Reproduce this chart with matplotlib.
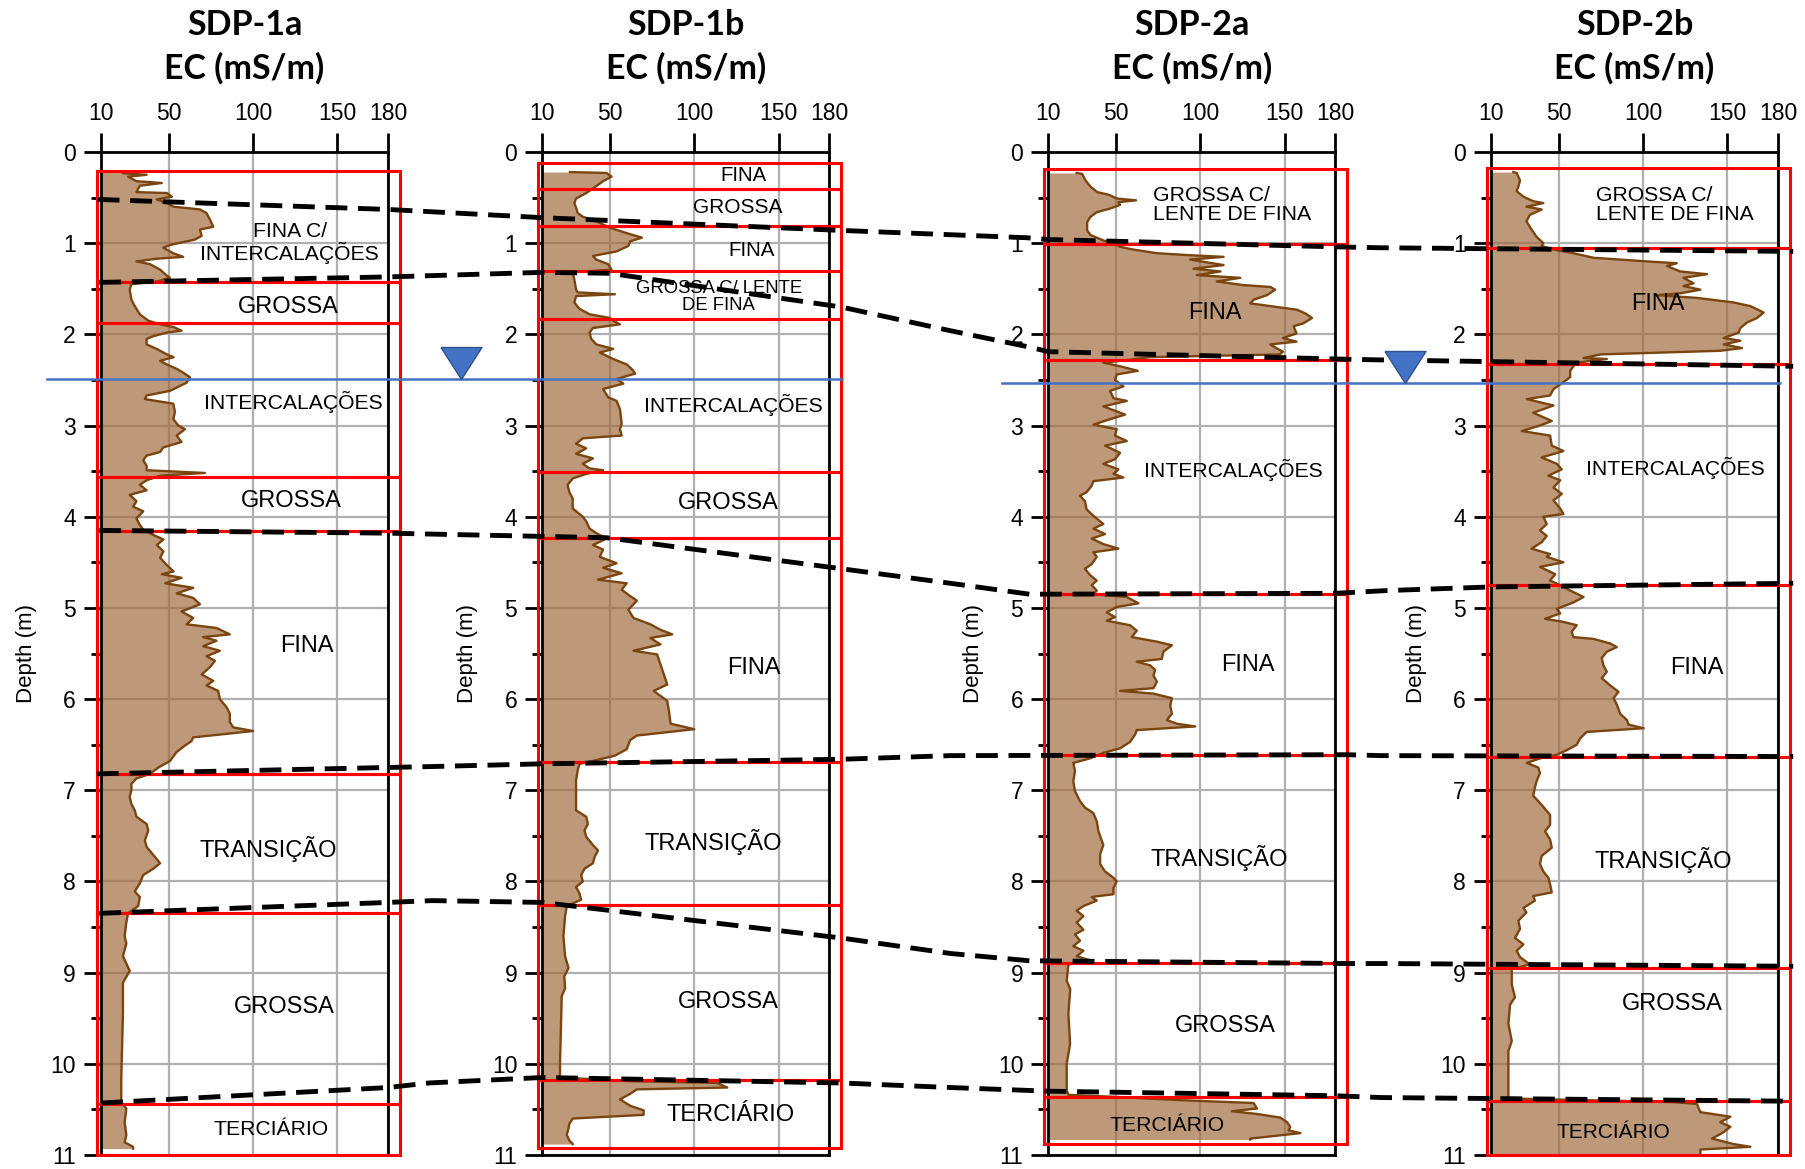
import numpy as np
import matplotlib
matplotlib.use("Agg")
import matplotlib.pyplot as plt
from matplotlib.lines import Line2D
from matplotlib.patches import Rectangle

plt.rcParams['font.family'] = ['Liberation Sans', 'DejaVu Sans']

# ---------------- DATA ----------------
wells = ['SDP-1a', 'SDP-1b', 'SDP-2a', 'SDP-2b']
x_ticks = [10, 50, 100, 150, 180]
y_ticks = list(range(0, 12))

sdp1a_depth = [0.22, 0.233, 0.25, 0.27, 0.32, 0.34, 0.37, 0.44, 0.45, 0.49, 0.52, 0.56, 0.60, 0.63, 0.67, 0.74, 0.82, 0.85,
               0.92, 0.96, 1.02, 1.05, 1.11, 1.15, 1.17, 1.20, 1.23, 1.29, 1.34, 1.38, 1.42, 1.45, 1.51, 1.62, 1.69, 1.78,
               1.85, 1.89, 1.92, 1.96, 1.98, 2.02, 2.05, 2.11, 2.16, 2.22, 2.25, 2.29, 2.33, 2.38, 2.42, 2.47, 2.53, 2.62,
               2.67, 2.71, 2.76, 2.85, 2.93, 3.00, 3.04, 3.11, 3.18, 3.24, 3.29, 3.33, 3.38, 3.44, 3.49, 3.52, 3.55, 3.60,
               3.65, 3.71, 3.76, 3.83, 3.89, 3.94, 4.02, 4.09, 4.14, 4.20, 4.25, 4.31, 4.38, 4.45, 4.53, 4.60, 4.63, 4.67,
               4.73, 4.78, 4.84, 4.89, 4.96, 5.04, 5.11, 5.18, 5.22, 5.29, 5.32, 5.36, 5.42, 5.47, 5.53, 5.58, 5.65, 5.73,
               5.80, 5.85, 5.91, 6.00, 6.09, 6.16, 6.25, 6.31, 6.35, 6.42, 6.46, 6.51, 6.58, 6.68, 6.75, 6.82, 6.87, 6.93,
               7.00, 7.07, 7.15, 7.22, 7.29, 7.37, 7.44, 7.55, 7.62, 7.71, 7.80, 7.86, 7.93, 8.02, 8.11, 8.17, 8.27, 8.35,
               8.45, 8.60, 8.68, 8.82, 8.98, 9.11, 9.44, 9.80, 10.17, 10.42, 10.49, 10.64, 10.78, 10.86, 10.91, 10.93]
sdp1a_ec = [23, 23, 37, 26, 31, 46, 33, 31, 49, 52, 43, 49, 53, 68.6, 72.5, 74.5, 76.5, 68.6,
            69.6, 65.6, 50.8, 46.9, 52.8, 58.7, 43, 31, 39, 45, 48, 50.8, 43, 28, 27, 28, 30, 33,
            38, 45, 53, 57.7, 49, 41, 37, 37, 43, 49, 53, 45, 49, 55, 58.7, 62.7, 60.7, 50.8,
            37, 36, 52.8, 53.8, 52.8, 55.8, 59.7, 54.8, 57.7, 46.9, 45, 37, 35, 37, 37, 71.5, 45, 37,
            33, 37, 27, 31, 29, 35, 31, 33, 35, 41, 47, 43, 47, 45, 49, 53, 46, 57.7,
            48, 64.6, 54.8, 64.6, 68.6, 57.7, 64.6, 60.7, 78.4, 86.3, 70.5, 78.4, 70.5, 80.4, 72.5, 77.5, 74.5, 69.6,
            76.5, 72.5, 79.4, 80.4, 84.4, 86.3, 86.3, 88.3, 100.1, 64.6, 63.6, 59.7, 54.8, 50.8, 44, 39, 31, 28,
            28, 27, 28, 30, 31, 37, 38, 36, 37, 41, 45, 41, 35, 33, 30, 33, 32, 26,
            25, 24, 25, 23, 27, 23, 23, 22.5, 22, 22, 25, 24, 25, 24, 29, 29]

sdp1b_depth = [0.22, 0.23, 0.27, 0.32, 0.40, 0.45, 0.51, 0.56, 0.61, 0.67, 0.71, 0.76, 0.83, 0.89, 0.94, 0.98, 1.03, 1.09,
               1.14, 1.18, 1.23, 1.29, 1.32, 1.40, 1.51, 1.54, 1.56, 1.58, 1.65, 1.72, 1.78, 1.82, 1.85, 1.89, 1.93, 1.98,
               2.05, 2.11, 2.16, 2.20, 2.27, 2.33, 2.38, 2.43, 2.49, 2.54, 2.60, 2.69, 2.73, 2.82, 2.98, 3.04, 3.11, 3.14,
               3.20, 3.25, 3.31, 3.36, 3.42, 3.47, 3.49, 3.53, 3.58, 3.65, 3.73, 3.80, 3.91, 4.00, 4.05, 4.13, 4.18, 4.24,
               4.31, 4.36, 4.44, 4.51, 4.56, 4.62, 4.69, 4.73, 4.80, 4.87, 4.92, 5.02, 5.11, 5.18, 5.24, 5.29, 5.33, 5.40,
               5.47, 5.51, 5.62, 5.73, 5.84, 5.91, 6.02, 6.13, 6.27, 6.33, 6.40, 6.45, 6.55, 6.62, 6.67, 6.71, 6.78, 6.89,
               7.07, 7.22, 7.29, 7.37, 7.44, 7.51, 7.60, 7.66, 7.73, 7.80, 7.86, 7.93, 8.00, 8.06, 8.13, 8.20, 8.27, 8.38,
               8.60, 8.82, 8.95, 9.04, 9.17, 9.26, 9.62, 9.99, 10.15, 10.19, 10.21, 10.26, 10.28, 10.33, 10.39, 10.46, 10.51,
               10.56, 10.60, 10.66, 10.71, 10.78, 10.84, 10.88]
sdp1b_ec = [26.4, 48, 51, 46, 40, 36, 30, 29, 30, 31, 34, 42, 50, 60, 69, 62, 61, 54,
            40, 42, 49, 51, 28, 29, 30, 31, 53, 30, 29, 32, 38, 50, 52, 56, 40, 38,
            39, 42, 52, 44, 52, 60, 63, 65, 54, 58, 46, 49, 54, 56, 57, 56, 57, 34,
            30, 36, 30, 40, 34, 38, 46, 36, 28, 25, 26, 28, 28, 34, 36, 38, 42, 48,
            40, 46, 44, 54, 46, 57, 43, 60, 57, 62, 66, 61, 64, 74, 80, 87, 74, 80,
            64, 78, 80, 82, 84, 76, 84, 85, 86, 100, 66, 62, 60, 53, 42, 32, 31, 30,
            30, 30, 36, 37, 35, 36, 40, 43, 41, 40, 35, 33, 34, 30, 32, 33, 24.5, 23.5,
            22.5, 23.5, 25.5, 23, 23.5, 21.5, 21, 20.5, 20.5, 62, 113.6, 119.6, 66, 62, 56, 62, 70,
            70, 28, 26, 25.5, 24.5, 26, 28]

sdp2a_depth = [0.23, 0.24, 0.31, 0.38, 0.44, 0.47, 0.51, 0.53, 0.55, 0.58, 0.62, 0.66, 0.71, 0.77, 0.86, 0.91, 0.97, 1.00,
               1.04, 1.07, 1.11, 1.13, 1.15, 1.18, 1.24, 1.28, 1.31, 1.35, 1.38, 1.42, 1.46, 1.48, 1.51, 1.57, 1.62, 1.66,
               1.69, 1.73, 1.77, 1.82, 1.88, 1.91, 1.99, 2.04, 2.08, 2.11, 2.15, 2.19, 2.22, 2.25, 2.28, 2.31, 2.35, 2.40,
               2.44, 2.50, 2.57, 2.62, 2.70, 2.73, 2.79, 2.88, 2.93, 2.99, 3.04, 3.11, 3.17, 3.22, 3.30, 3.37, 3.42, 3.48,
               3.53, 3.57, 3.61, 3.66, 3.73, 3.77, 3.83, 3.92, 3.99, 4.08, 4.13, 4.19, 4.24, 4.30, 4.35, 4.39, 4.44, 4.52,
               4.57, 4.64, 4.70, 4.75, 4.81, 4.85, 4.88, 4.92, 4.95, 4.99, 5.05, 5.10, 5.14, 5.19, 5.25, 5.32, 5.37, 5.41,
               5.48, 5.56, 5.59, 5.63, 5.68, 5.74, 5.81, 5.88, 5.91, 5.94, 5.99, 6.07, 6.16, 6.23, 6.27, 6.30, 6.34, 6.39,
               6.47, 6.54, 6.59, 6.65, 6.70, 6.79, 6.90, 7.01, 7.12, 7.19, 7.25, 7.34, 7.45, 7.60, 7.70, 7.81, 7.89, 7.96,
               8.00, 8.07, 8.14, 8.17, 8.21, 8.27, 8.32, 8.38, 8.45, 8.53, 8.58, 8.65, 8.71, 8.76, 8.82, 8.87, 8.91, 9.09,
               9.18, 9.45, 9.78, 10.00, 10.29, 10.34, 10.36, 10.40, 10.43, 10.49, 10.52, 10.55, 10.59, 10.64, 10.69, 10.73,
               10.76, 10.78, 10.82, 10.83]
sdp2a_ec = [26.8, 30, 32, 35, 39, 46, 50.5, 62, 51.5, 52.5, 46.6, 38.7, 35, 33, 33, 35, 42.6, 48.6,
            52.5, 60.4, 74.3, 92, 113.8, 94, 113.8, 96, 112, 98, 123.7, 109.8, 125.7, 141.5, 144.4, 139.5, 131.6, 129.6,
            141.5, 157.3, 162.2, 166.2, 161, 155.3, 157, 149, 157, 141.5, 145, 149, 147, 70, 58, 42.6, 52.5, 63,
            50.5, 49.5, 54.5, 46.6, 48.6, 56.5, 42.6, 55.5, 46.6, 36.7, 50.5, 49.5, 56.5, 43.6, 52.5, 49.5, 42.6, 51.5,
            48.6, 54.5, 36.7, 35.7, 32.7, 28.8, 31.7, 32.7, 36.7, 42.6, 36.7, 43.6, 35.7, 42.6, 51.5, 36.7, 38.7, 35.7,
            31.7, 34.7, 38.7, 35.7, 38.7, 36.7, 56.5, 60.4, 63.4, 50.5, 44.6, 49.5, 44.6, 58.4, 62.4, 59.4, 74.3, 83.2,
            78.2, 77.2, 62.4, 70.3, 73.3, 72.3, 74.3, 72.3, 52.5, 72.3, 83.2, 82.2, 83.2, 80.2, 86.1, 97, 62.4, 61.4,
            58.4, 52.5, 42.6, 34.7, 24.8, 25.8, 24.8, 25.8, 28.8, 31.7, 36.7, 38.7, 39.7, 42.6, 40.7, 40.7, 43.6, 48.6,
            50.5, 48.6, 48.6, 35.7, 38.7, 30.8, 26.8, 30.8, 26.8, 30.8, 25.8, 28.8, 24.8, 30.8, 26.8, 35.7, 21.9, 20.9,
            23, 21.9, 22.9, 20.9, 20.9, 21.9, 46.6, 90, 131.6, 133.6, 118.7, 133.6, 147.4, 151.4, 153.3, 152.3,
            159.3, 149.4, 129.6, 129.6]

sdp2b_depth = [0.22, 0.23, 0.31, 0.38, 0.43, 0.49, 0.54, 0.56, 0.60, 0.63, 0.69, 0.76, 0.85, 0.93, 1.00, 1.03, 1.07, 1.11,
               1.16, 1.20, 1.22, 1.25, 1.31, 1.34, 1.38, 1.44, 1.47, 1.51, 1.55, 1.57, 1.60, 1.65, 1.69, 1.76, 1.82, 1.87,
               1.93, 1.98, 2.04, 2.07, 2.11, 2.15, 2.18, 2.22, 2.26, 2.27, 2.31, 2.35, 2.40, 2.47, 2.55, 2.60, 2.67, 2.71,
               2.78, 2.86, 2.95, 3.00, 3.06, 3.11, 3.22, 3.28, 3.35, 3.42, 3.48, 3.55, 3.60, 3.68, 3.75, 3.82, 3.91, 3.97,
               4.00, 4.08, 4.15, 4.21, 4.28, 4.35, 4.41, 4.44, 4.50, 4.55, 4.63, 4.70, 4.75, 4.81, 4.88, 4.94, 5.01, 5.06,
               5.12, 5.15, 5.19, 5.26, 5.32, 5.34, 5.39, 5.43, 5.48, 5.55, 5.63, 5.70, 5.77, 5.85, 5.92, 5.99, 6.06, 6.16,
               6.23, 6.28, 6.32, 6.36, 6.43, 6.50, 6.56, 6.61, 6.65, 6.70, 6.75, 6.81, 6.90, 6.97, 7.06, 7.16, 7.27, 7.38,
               7.45, 7.54, 7.63, 7.72, 7.81, 7.89, 7.96, 8.03, 8.12, 8.16, 8.21, 8.29, 8.34, 8.43, 8.52, 8.62, 8.69, 8.76,
               8.83, 8.91, 8.96, 9.13, 9.27, 9.35, 9.56, 9.75, 9.86, 10.18, 10.38, 10.42, 10.44, 10.53, 10.58, 10.64, 10.69,
               10.75, 10.82, 10.88, 10.91, 10.94, 11.0]
sdp2b_ec = [23.2, 25.2, 27.2, 26.2, 25.2, 29.2, 35, 41, 31, 40, 33, 31, 34, 37, 41, 40, 47, 58.8,
            70.7, 102.3, 120, 114.2, 122, 137.9, 124, 130, 124, 134, 122, 108, 132, 153.7, 163.6, 171.5, 167.6, 161.6,
            157.7, 156.7, 147.8, 157.7, 147.8, 158.7, 145.8, 74.7, 64.8, 78.6, 60.8, 58.8, 56.9, 56.9, 50.9, 47, 45, 31.2,
            47, 35, 46, 39, 28.2, 45, 46, 52.9, 40, 49, 51.9, 44, 51, 47, 51.9, 47, 51, 52.9,
            41, 43, 39, 43, 40, 34, 45, 43, 52.9, 39, 48, 45, 51, 56.9, 64.8, 58.8, 49, 51,
            42, 52, 60.8, 57.8, 58.8, 70.7, 80.6, 84.5, 78.6, 75.6, 76.6, 78.6, 75.6, 80.6, 85.5, 82.6, 84.5, 86.5,
            90.5, 91.5, 100.4, 66.7, 62.8, 60.8, 54.9, 49, 39, 31.2, 38, 39, 37, 36, 35, 40, 45, 45,
            42, 45, 46, 40, 39, 41, 44, 45, 46, 35, 36, 29.2, 31, 26.2, 27.2, 24.2, 29.2, 25.2,
            27.2, 33, 22.3, 22.3, 24.2, 21.3, 20.3, 22.3, 20.3, 20.3, 20.3, 118, 132, 134, 151.8, 145.8, 151.8,
            147.8, 140.9, 153.7, 163.6, 134, 134]

# layer boundaries (m) and unit names
sdp1a_bounds = [0.21, 1.43, 1.88, 3.56, 4.16, 6.82, 8.35, 10.44, 11.0]
sdp1a_units = ['FINA C/\nINTERCALAÇÕES', 'GROSSA', 'INTERCALAÇÕES', 'GROSSA', 'FINA', 'TRANSIÇÃO', 'GROSSA', 'TERCIÁRIO']
sdp1b_bounds = [0.12, 0.41, 0.81, 1.30, 1.83, 3.51, 4.23, 6.69, 8.26, 10.18, 10.92]
sdp1b_units = ['FINA', 'GROSSA', 'FINA', 'GROSSA C/ LENTE\nDE FINA', 'INTERCALAÇÕES', 'GROSSA', 'FINA',
               'TRANSIÇÃO', 'GROSSA', 'TERCIÁRIO']
sdp2a_bounds = [0.19, 1.01, 2.28, 4.85, 6.61, 8.89, 10.36, 10.88]
sdp2a_units = ['GROSSA C/\nLENTE DE FINA', 'FINA', 'INTERCALAÇÕES', 'FINA', 'TRANSIÇÃO', 'GROSSA', 'TERCIÁRIO']
sdp2b_bounds = [0.18, 1.05, 2.33, 4.75, 6.63, 8.95, 10.41, 11.0]
sdp2b_units = ['GROSSA C/\nLENTE DE FINA', 'FINA', 'INTERCALAÇÕES', 'FINA', 'TRANSIÇÃO', 'GROSSA', 'TERCIÁRIO']

# correlation lines: (panel, EC position, depth)
corr_lines = [
    [(0, 8, 0.52), (0, 180, 0.63), (1, 10, 0.72), (1, 187, 0.86), (2, -3, 0.94), (2, 10, 0.96),
     (2, 180, 1.04), (3, -56, 1.05), (3, 189, 1.09)],
    [(0, 9, 1.43), (0, 180, 1.37), (1, 10, 1.32), (1, 50, 1.33), (1, 187, 1.70), (2, -48, 1.96),
     (2, -1, 2.14), (2, 10, 2.19), (2, 180, 2.27), (3, -56, 2.28), (3, 189, 2.35)],
    [(0, 9, 4.15), (0, 180, 4.18), (1, -57, 4.19), (1, 48, 4.23), (1, 187, 4.57), (2, -48, 4.73),
     (2, -1, 4.85), (2, 180, 4.84), (3, -52, 4.81), (3, 10, 4.77), (3, 189, 4.73)],
    [(0, 7.5, 6.82), (0, 180, 6.75), (1, -56, 6.74), (1, 10, 6.71), (1, 187, 6.66), (2, -48, 6.62),
     (2, 187, 6.61), (3, -55, 6.62), (3, 189, 6.63)],
    [(0, 9, 8.35), (0, 180, 8.23), (1, -55, 8.21), (1, 10, 8.23), (1, 187, 8.62), (2, -48, 8.79),
     (2, -1, 8.87), (2, 187, 8.90), (3, -55, 8.90), (3, 189, 8.93)],
    [(0, 10, 10.43), (0, 180, 10.26), (1, -57, 10.21), (1, 10, 10.15), (1, 187, 10.21), (2, -48, 10.26),
     (2, 10, 10.30), (2, 180, 10.35), (3, -55, 10.37), (3, 189, 10.41)],
]

# water table: depth, line start (panel, x), line end (panel, x), marker (panel, x)
water_tables = [
    (2.49, (0, -22), (1, 187.5), (0, 223)),
    (2.53, (2, -17.5), (3, 181.4), (2, 221)),
]

# ---------------- LAYOUT / STYLE ----------------
label_layout = [
    [(121.8, 1.00, 15.2, 'center'), (120.7, 1.70, 17, 'center'), (124, 2.74, 15.2, 'center'), (123, 3.83, 17, 'center'),
     (131.9, 5.42, 17, 'center'), (108.9, 7.64, 17, 'center'), (118.4, 9.38, 17, 'center'), (111, 10.72, 15.2, 'center')],
    [(129, 0.26, 14.7, 'center'), (125.7, 0.61, 15, 'center'), (134, 1.08, 14.8, 'center'), (114.6, 1.59, 13.3, 'center'),
     (123.4, 2.77, 15.2, 'center'), (120.3, 3.85, 17, 'center'), (135.3, 5.66, 17, 'center'), (111, 7.57, 17, 'center'),
     (120.3, 9.32, 17, 'center'), (121.6, 10.56, 17, 'center')],
    [(71.9, 0.58, 15.3, 'left'), (108.9, 1.77, 17, 'center'), (119.6, 3.49, 15.2, 'center'), (128.5, 5.63, 17, 'center'),
     (111.2, 7.74, 17, 'center'), (114.8, 9.59, 17, 'center'), (80.5, 10.68, 15.2, 'center')],
    [(72.3, 0.58, 15.2, 'left'), (109, 1.67, 17, 'center'), (119, 3.47, 15.2, 'center'), (132, 5.66, 17, 'center'),
     (112, 7.76, 17, 'center'), (117.4, 9.34, 17, 'center'), (82.4, 10.75, 15, 'center')],
]

FILL = '#a0693a'
LINE = '#7a4510'
BLUE = '#4472c4'

W, H = 1805, 1169
ax_left_px = [101, 542.3, 1048.3, 1491]
ax_w_px = 287
ax_top_px, ax_bot_px = 152, 1155

profiles = [(sdp1a_depth, sdp1a_ec), (sdp1b_depth, sdp1b_ec), (sdp2a_depth, sdp2a_ec), (sdp2b_depth, sdp2b_ec)]
layers = [(sdp1a_bounds, sdp1a_units), (sdp1b_bounds, sdp1b_units), (sdp2a_bounds, sdp2a_units), (sdp2b_bounds, sdp2b_units)]

fig = plt.figure(figsize=(W / 100, H / 100), dpi=100)
axes = []
for i in range(4):
    ax = fig.add_axes([ax_left_px[i] / W, 1 - ax_bot_px / H, ax_w_px / W, (ax_bot_px - ax_top_px) / H])
    axes.append(ax)
    ax.set_xlim(10, 180)
    ax.set_ylim(11, 0)
    ax.set_axisbelow(True)
    ax.grid(True, color='#b0b0b0', lw=1.6)
    ax.xaxis.tick_top()
    ax.set_xticks(x_ticks)
    ax.set_yticks(y_ticks)
    ax.set_yticks(np.arange(0.5, 11, 1.0), minor=True)
    ax.tick_params(axis='x', which='major', length=13.5, width=2, pad=6, labelsize=16.5, direction='out')
    ax.tick_params(axis='y', which='major', length=12, width=2, pad=6, labelsize=16.5, direction='out')
    ax.tick_params(axis='y', which='minor', length=7, width=2, direction='out')
    for sp in ax.spines.values():
        sp.set_linewidth(2)
        sp.set_color('black')
    ax.set_ylabel('Depth (m)', fontsize=16)
    ax.yaxis.set_label_coords(-0.223, 0.5)

    d, ec = profiles[i]
    ax.fill_betweenx(d, 10, ec, color=FILL, alpha=0.68, lw=0, zorder=1)
    ax.plot(ec, d, color=LINE, lw=1.7, zorder=2)

    bounds, units = layers[i]
    for j, name in enumerate(units):
        top, bot = bounds[j], bounds[j + 1]
        ax.add_patch(Rectangle((7.4, top), 179.8, bot - top, fill=False, ec='red', lw=2.2,
                               clip_on=False, zorder=3))
        lx, ly, fs, ha = label_layout[i][j]
        ax.text(lx, ly, name, ha=ha, va='center', multialignment=ha, fontsize=fs,
                linespacing=1.05, zorder=4)

    ax.text(0.5, 1.127, wells[i], transform=ax.transAxes, ha='center', va='center',
            fontsize=24.5, fontweight='bold', family=['Lato', 'DejaVu Sans'])
    ax.text(0.5, 1.083, 'EC (mS/m)', transform=ax.transAxes, ha='center', va='center',
            fontsize=24.5, fontweight='bold', family=['Lato', 'DejaVu Sans'])

inv = fig.transFigure.inverted()


def to_fig(panel, x, d):
    return inv.transform(axes[panel].transData.transform((x, d)))


for cl in corr_lines:
    pts = np.array([to_fig(p, x, d) for p, x, d in cl])
    fig.add_artist(Line2D(pts[:, 0], pts[:, 1], transform=fig.transFigure, color='black',
                          lw=3.5, dashes=(4.5, 2.2), zorder=6))

tri = [(-1, 0.78), (1, 0.78), (0, -0.78), (-1, 0.78)]
for depth, (p0, x0), (p1, x1), (pm, xm) in water_tables:
    a = to_fig(p0, x0, depth)
    b = to_fig(p1, x1, depth)
    fig.add_artist(Line2D([a[0], b[0]], [a[1], b[1]], transform=fig.transFigure, color=BLUE,
                          lw=1.8, zorder=5))
    c = to_fig(pm, xm, depth - 16 / 91.3)
    fig.add_artist(Line2D([c[0]], [c[1]], transform=fig.transFigure, marker=tri, markersize=29.5,
                          markerfacecolor=BLUE, markeredgecolor='#2f528f', markeredgewidth=1,
                          linestyle='none', zorder=7))

fig.savefig('out.png', dpi=100)
